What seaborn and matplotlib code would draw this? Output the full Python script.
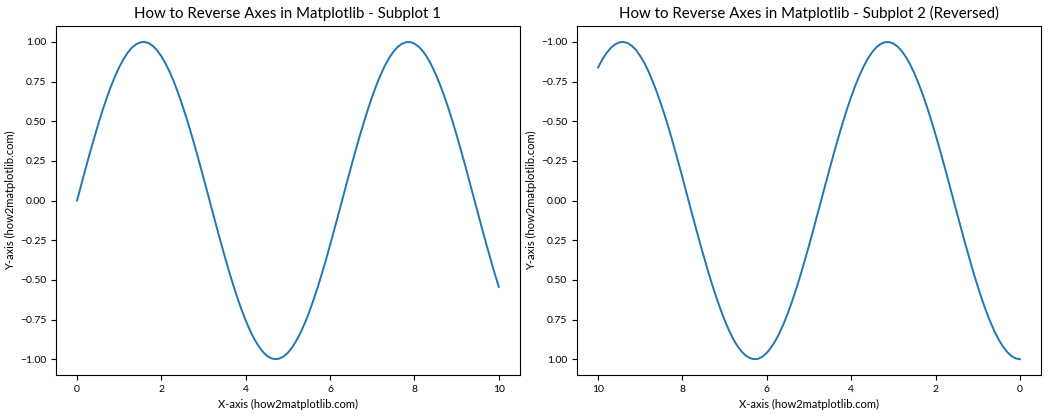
import pandas as pd
import matplotlib
matplotlib.use('Agg')
import matplotlib.pyplot as plt
import seaborn as sns

plt.rcParams['font.family'] = ['Lato', 'DejaVu Sans']
plt.rcParams['axes.titlesize'] = 10.8
plt.rcParams['axes.labelsize'] = 8
plt.rcParams['xtick.labelsize'] = 7.5
plt.rcParams['ytick.labelsize'] = 7.5

# x positions
x_vals = [0.0, 0.1, 0.2, 0.3, 0.4, 0.5, 0.6, 0.7, 0.8, 0.9,
          1.0, 1.1, 1.2, 1.3, 1.4, 1.5, 1.6, 1.7, 1.8, 1.9,
          2.0, 2.1, 2.2, 2.3, 2.4, 2.5, 2.6, 2.7, 2.8, 2.9,
          3.0, 3.1, 3.2, 3.3, 3.4, 3.5, 3.6, 3.7, 3.8, 3.9,
          4.0, 4.1, 4.2, 4.3, 4.4, 4.5, 4.6, 4.7, 4.8, 4.9,
          5.0, 5.1, 5.2, 5.3, 5.4, 5.5, 5.6, 5.7, 5.8, 5.9,
          6.0, 6.1, 6.2, 6.3, 6.4, 6.5, 6.6, 6.7, 6.8, 6.9,
          7.0, 7.1, 7.2, 7.3, 7.4, 7.5, 7.6, 7.7, 7.8, 7.9,
          8.0, 8.1, 8.2, 8.3, 8.4, 8.5, 8.6, 8.7, 8.8, 8.9,
          9.0, 9.1, 9.2, 9.3, 9.4, 9.5, 9.6, 9.7, 9.8, 9.9,
          10.0]

# left subplot curve
y_left = [0.000, 0.100, 0.199, 0.296, 0.389, 0.479, 0.565, 0.644, 0.717, 0.783,
          0.841, 0.891, 0.932, 0.964, 0.985, 0.997, 1.000, 0.992, 0.974, 0.946,
          0.909, 0.863, 0.808, 0.746, 0.675, 0.598, 0.516, 0.427, 0.335, 0.239,
          0.141, 0.042, -0.058, -0.158, -0.256, -0.351, -0.443, -0.530, -0.612, -0.688,
          -0.757, -0.818, -0.872, -0.916, -0.952, -0.978, -0.994, -1.000, -0.996, -0.982,
          -0.959, -0.926, -0.883, -0.832, -0.773, -0.706, -0.631, -0.551, -0.465, -0.374,
          -0.279, -0.182, -0.083, 0.017, 0.117, 0.215, 0.312, 0.405, 0.494, 0.578,
          0.657, 0.729, 0.794, 0.851, 0.899, 0.938, 0.968, 0.988, 0.998, 0.999,
          0.989, 0.970, 0.941, 0.903, 0.855, 0.798, 0.734, 0.663, 0.585, 0.501,
          0.412, 0.319, 0.223, 0.124, 0.024, -0.075, -0.175, -0.272, -0.366, -0.458,
          -0.544]

# right subplot curve (plotted on reversed axes)
y_right = [1.000, 0.995, 0.980, 0.955, 0.921, 0.878, 0.825, 0.765, 0.697, 0.622,
           0.540, 0.454, 0.362, 0.267, 0.170, 0.071, -0.029, -0.129, -0.227, -0.323,
           -0.416, -0.505, -0.589, -0.666, -0.737, -0.801, -0.857, -0.904, -0.942, -0.971,
           -0.990, -0.999, -0.998, -0.987, -0.967, -0.936, -0.897, -0.848, -0.791, -0.726,
           -0.654, -0.575, -0.490, -0.401, -0.307, -0.211, -0.112, -0.012, 0.087, 0.187,
           0.284, 0.378, 0.469, 0.554, 0.635, 0.709, 0.776, 0.835, 0.886, 0.927,
           0.960, 0.983, 0.997, 1.000, 0.993, 0.977, 0.951, 0.916, 0.871, 0.816,
           0.754, 0.684, 0.608, 0.526, 0.439, 0.347, 0.252, 0.155, 0.056, -0.044,
           -0.146, -0.243, -0.340, -0.433, -0.520, -0.602, -0.678, -0.747, -0.811, -0.866,
           -0.911, -0.949, -0.975, -0.993, -1.000, -0.997, -0.984, -0.962, -0.930, -0.889,
           -0.839]

df = pd.DataFrame({'x': x_vals, 'left': y_left, 'right': y_right})

fig, (ax1, ax2) = plt.subplots(1, 2, figsize=(10.5, 4.2), dpi=100)
fig.subplots_adjust(left=0.0533, right=0.9914, top=0.938, bottom=0.107, wspace=0.123)

sns.lineplot(data=df, x='x', y='left', ax=ax1, color='#1f77b4', linewidth=1.4)
ax1.set_title('How to Reverse Axes in Matplotlib - Subplot 1')
ax1.set_xlabel('X-axis (how2matplotlib.com)')
ax1.set_ylabel('Y-axis (how2matplotlib.com)', labelpad=3)

sns.lineplot(data=df, x='x', y='right', ax=ax2, color='#1f77b4', linewidth=1.4)
ax2.invert_xaxis()
ax2.invert_yaxis()
ax2.set_title('How to Reverse Axes in Matplotlib - Subplot 2 (Reversed)')
ax2.set_xlabel('X-axis (how2matplotlib.com)')
ax2.set_ylabel('Y-axis (how2matplotlib.com)', labelpad=3)

plt.savefig('out.png')
